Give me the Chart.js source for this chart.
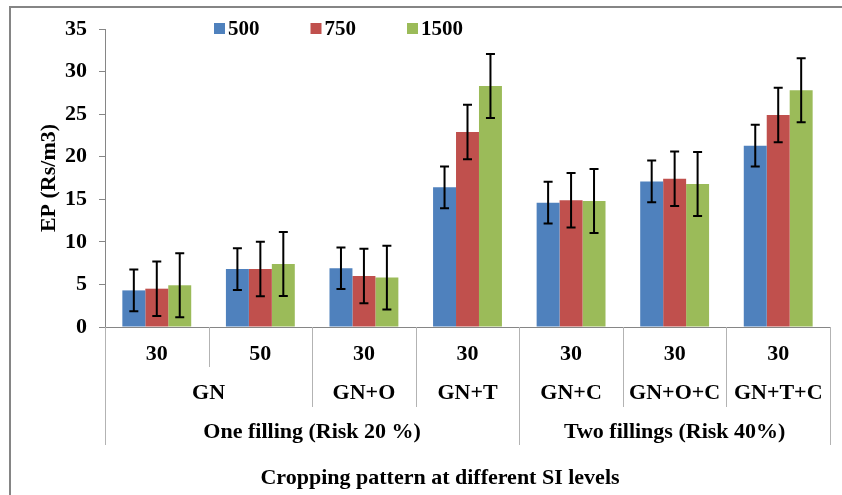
<!DOCTYPE html>
<html>
<head>
<meta charset="utf-8">
<script src="https://cdn.jsdelivr.net/npm/chart.js@4/dist/chart.umd.min.js"></script>
<style>
  html, body { margin: 0; padding: 0; background: #fff; overflow: hidden; }
  #frame { position: absolute; left: 9px; top: 6px; width: 1000px; height: 700px; border: 2px solid #858585; }
  #myChart { position: absolute; left: 0; top: 0; }
</style>
</head>
<body>
<div id="frame"></div>
<canvas id="myChart" width="842" height="495"></canvas>
<script>
// SI levels (first row under the axis)
let siLevels = ["30", "50", "30", "30", "30", "30", "30"];
// cropping patterns, with how many SI levels each one covers
let crops = ["GN", "GN+O", "GN+T", "GN+C", "GN+O+C", "GN+T+C"];
let cropSpans = [2, 1, 1, 1, 1, 1];
// filling groups, with how many columns each one covers
let fillings = ["One filling (Risk 20 %)", "Two fillings (Risk 40%)"];
let fillingSpans = [4, 3];

let seriesNames = ["500", "750", "1500"];
let ep500 = [4.3, 6.8, 6.9, 16.4, 14.6, 17.1, 21.3];
let ep750 = [4.5, 6.8, 6.0, 22.9, 14.9, 17.4, 24.9];
let ep1500 = [4.9, 7.4, 5.8, 28.3, 14.8, 16.8, 27.8];
// +/- error for each bar
let err500 = [2.45, 2.45, 2.45, 2.45, 2.45, 2.45, 2.45];
let err750 = [3.2, 3.2, 3.2, 3.2, 3.2, 3.2, 3.2];
let err1500 = [3.75, 3.75, 3.75, 3.75, 3.75, 3.75, 3.75];
let yTicks = { min: 0, max: 35, step: 5 };

let font = "'Liberation Serif', 'Times New Roman', serif";
let colors = ["#4F81BD", "#C0504D", "#9BBB59"];
let errors = [err500, err750, err1500];

// error bars on top of every bar
let errorBars = {
  id: "errorBars",
  afterDatasetsDraw(chart) {
    let ctx = chart.ctx;
    let y = chart.scales.y;
    ctx.save();
    ctx.strokeStyle = "#000";
    ctx.lineWidth = 2;
    chart.data.datasets.forEach((ds, i) => {
      chart.getDatasetMeta(i).data.forEach((bar, j) => {
        let v = ds.data[j];
        let e = errors[i][j];
        let top = y.getPixelForValue(v + e);
        let bot = y.getPixelForValue(v - e);
        ctx.beginPath();
        ctx.moveTo(bar.x, top);
        ctx.lineTo(bar.x, bot);
        ctx.moveTo(bar.x - 4.5, top);
        ctx.lineTo(bar.x + 4.5, top);
        ctx.moveTo(bar.x - 4.5, bot);
        ctx.lineTo(bar.x + 4.5, bot);
        ctx.stroke();
      });
    });
    ctx.restore();
  }
};

// three-row category axis, the axis title and the legend
let levelAxis = {
  id: "levelAxis",
  afterDraw(chart) {
    let ctx = chart.ctx;
    let x = chart.scales.x;
    let area = chart.chartArea;
    let step = x.getPixelForValue(1) - x.getPixelForValue(0);
    let edge = i => x.getPixelForValue(0) - step / 2 + i * step;

    let cropEdges = [0];
    cropSpans.forEach(s => cropEdges.push(cropEdges[cropEdges.length - 1] + s));
    let fillEdges = [0];
    fillingSpans.forEach(s => fillEdges.push(fillEdges[fillEdges.length - 1] + s));

    ctx.save();
    // separators, longer for higher levels
    ctx.strokeStyle = "#b3b3b3";
    ctx.lineWidth = 1;
    for (let i = 0; i <= siLevels.length; i++) {
      let len = 40;
      if (fillEdges.includes(i)) len = 118;
      else if (cropEdges.includes(i)) len = 80;
      let px = Math.round(edge(i)) + 0.5;
      ctx.beginPath();
      ctx.moveTo(px, area.bottom);
      ctx.lineTo(px, area.bottom + len);
      ctx.stroke();
    }

    ctx.fillStyle = "#000";
    ctx.font = "bold 22px " + font;
    ctx.textAlign = "center";
    ctx.textBaseline = "middle";
    siLevels.forEach((s, i) => ctx.fillText(s, x.getPixelForValue(i), area.bottom + 27));
    crops.forEach((c, i) => {
      let mid = (edge(cropEdges[i]) + edge(cropEdges[i + 1])) / 2;
      ctx.fillText(c, mid, area.bottom + 66);
    });
    fillings.forEach((f, i) => {
      let mid = (edge(fillEdges[i]) + edge(fillEdges[i + 1])) / 2;
      ctx.fillText(f, mid, area.bottom + 105);
    });
    ctx.fillText("Cropping pattern at different SI levels", 440, area.bottom + 151);

    // legend
    ctx.font = "bold 21px " + font;
    chart.data.datasets.forEach((ds, i) => {
      let bx = 214 + i * 96.5;
      ctx.fillStyle = ds.backgroundColor;
      ctx.fillRect(bx, 23, 11, 11);
      ctx.fillStyle = "#000";
      ctx.textAlign = "left";
      ctx.fillText(ds.label, bx + 14, 30);
    });
    ctx.restore();
  }
};

let ctx = document.getElementById("myChart").getContext("2d");
let chart = new Chart(ctx, {
  type: "bar",
  data: {
    labels: siLevels,
    datasets: [
      { label: seriesNames[0], data: ep500, backgroundColor: colors[0] },
      { label: seriesNames[1], data: ep750, backgroundColor: colors[1] },
      { label: seriesNames[2], data: ep1500, backgroundColor: colors[2] }
    ]
  },
  options: {
    responsive: false,
    animation: false,
    layout: { padding: { left: 0, top: 29, right: 12, bottom: 168 } },
    datasets: { bar: { categoryPercentage: 0.665, barPercentage: 1.0, borderWidth: 0 } },
    plugins: { legend: { display: false }, tooltip: { enabled: false } },
    scales: {
      x: {
        ticks: { display: false },
        grid: { display: true, drawOnChartArea: false, drawTicks: false },
        border: { color: "#868686", width: 1 }
      },
      y: {
        min: yTicks.min,
        max: yTicks.max,
        ticks: { stepSize: yTicks.step, padding: 12, color: "#000", font: { family: font, size: 22, weight: "bold" } },
        grid: { drawOnChartArea: false, drawTicks: true, tickLength: 6, color: "#868686" },
        border: { color: "#868686", width: 1 },
        title: {
          display: true,
          text: "EP (Rs/m3)",
          color: "#000",
          font: { family: font, size: 22, weight: "bold" },
          padding: { top: 36, bottom: 0 }
        },
        afterFit: scale => { scale.width = 105; }
      }
    }
  },
  plugins: [errorBars, levelAxis]
});
</script>
</body>
</html>
